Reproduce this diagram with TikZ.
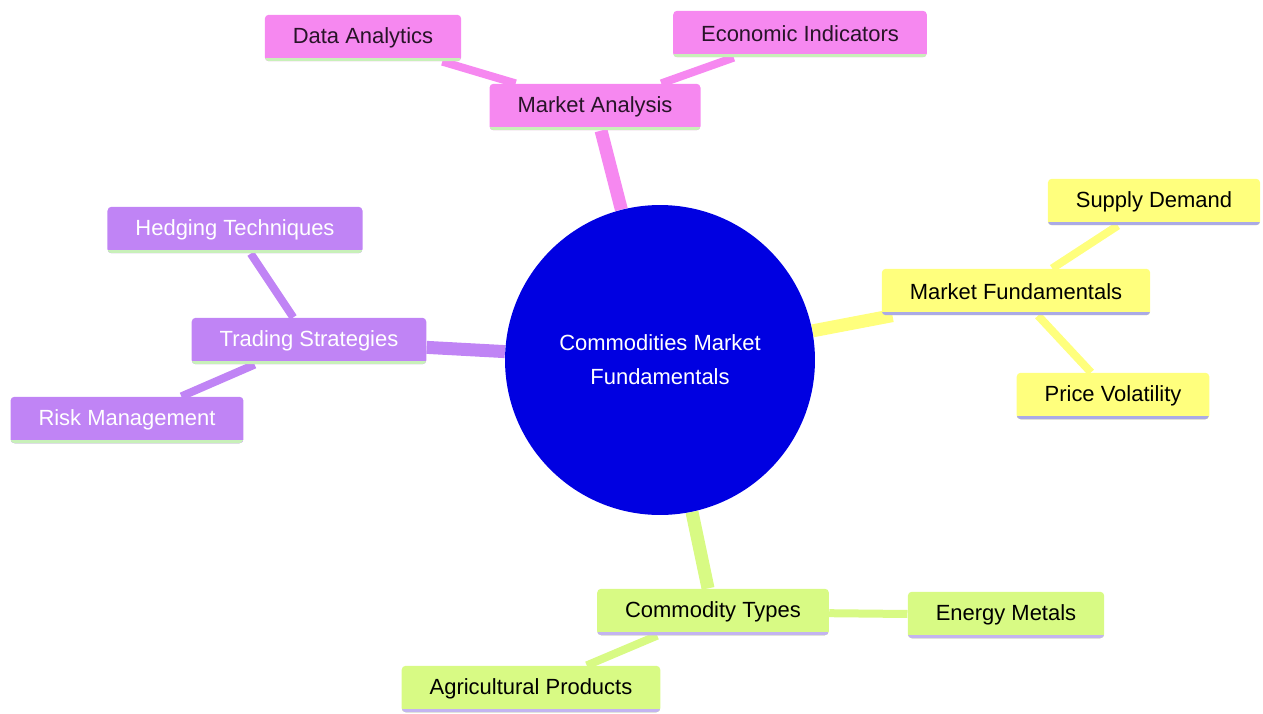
\documentclass[tikz,border=0pt]{standalone}
\usepackage{fontspec}
\setmainfont{Liberation Sans}
\definecolor{mmroot}{RGB}{0, 0, 225}
\definecolor{mmpink}{RGB}{246, 136, 240}
\definecolor{mmpurple}{RGB}{192, 132, 245}
\definecolor{mmyellow}{RGB}{255, 255, 125}
\definecolor{mmgreen}{RGB}{216, 250, 132}
\definecolor{ulgreen}{RGB}{200, 240, 185}
\definecolor{ullav}{RGB}{170, 170, 230}
\definecolor{ullavl}{RGB}{195, 180, 240}
\definecolor{txtdark}{RGB}{40, 20, 40}
\usetikzlibrary{backgrounds}

\begin{document}
\begin{tikzpicture}[x=0.02cm, y=-0.02cm,
    box/.style={rounded corners=0.08cm, inner xsep=0.56cm, inner ysep=0pt, minimum height=0.93cm, font=\fontsize{12.5}{15}\selectfont},
    uline/.style={path picture={\draw[line width=0.12cm, #1] (path picture bounding box.south west) -- (path picture bounding box.south east);}},
    mabox/.style={box, fill=mmpink, text=txtdark, uline=ulgreen},
    tsbox/.style={box, fill=mmpurple, text=white, uline=ulgreen},
    mfbox/.style={box, fill=mmyellow, text=black, uline=ullav},
    ctbox/.style={box, fill=mmgreen, text=black, uline=ullavl},
    trunk/.style={line width=0.26cm},
    twig/.style={line width=0.16cm}]
    \useasboundingbox (0,0) rectangle (1263,713);

    \node[circle, fill=mmroot, text=white, minimum size=6.2cm, align=center, font=\fontsize{12.5}{19.4}\selectfont] (root) at (660,360) {Commodities Market\\Fundamentals};

    % market analysis branch
    \node[mabox] (ma) at (595,107) {Market Analysis};
    \node[mabox] (data) at (363,38) {Data Analytics};
    \node[mabox] (econ) at (800,34) {Economic Indicators};

    % market fundamentals branch
    \node[mfbox] (mf) at (1016,292) {Market Fundamentals};
    \node[mfbox] (supply) at (1154,202) {Supply Demand};
    \node[mfbox] (vol) at (1113,396) {Price Volatility};

    % trading strategies branch
    \node[tsbox] (ts) at (309,341) {Trading Strategies};
    \node[tsbox] (hedge) at (235,230) {Hedging Techniques};
    \node[tsbox] (risk) at (127,420) {Risk Management};

    % commodity types branch
    \node[ctbox] (ct) at (713,612) {Commodity Types};
    \node[ctbox] (energy) at (1006,615) {Energy Metals};
    \node[ctbox] (agri) at (531,689) {Agricultural Products};

    \begin{scope}[on background layer]
      \draw[trunk, mmpink] (root) -- (ma);
      \draw[twig, mmpink] (ma) -- (data);
      \draw[twig, mmpink] (ma) -- (econ);
      \draw[trunk, mmyellow] (root) -- (mf);
      \draw[twig, mmyellow] (mf) -- (supply);
      \draw[twig, mmyellow] (mf) -- (vol);
      \draw[trunk, mmpurple] (root) -- (ts);
      \draw[twig, mmpurple] (ts) -- (hedge);
      \draw[twig, mmpurple] (ts) -- (risk);
      \draw[trunk, mmgreen] (root) -- (ct);
      \draw[twig, mmgreen] (ct) -- (energy);
      \draw[twig, mmgreen] (ct) -- (agri);
    \end{scope}
\end{tikzpicture}
\end{document}
